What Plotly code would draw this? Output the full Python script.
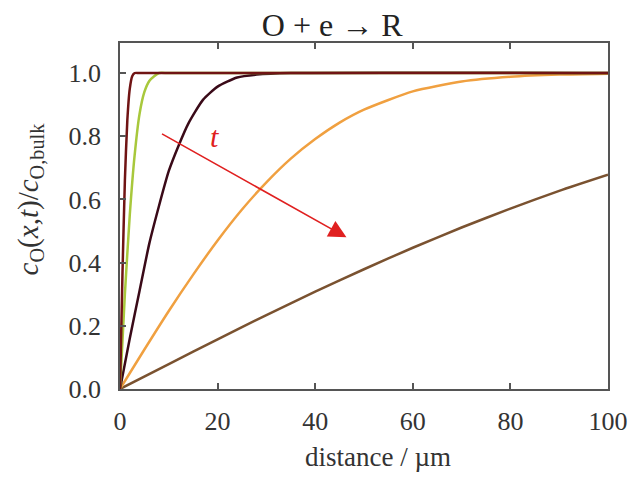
import plotly.graph_objects as go

# Curve data (distance in µm, normalised concentration)
x1 = [0, 0.5, 1.0, 1.5, 2.0, 2.5, 3.0, 4.0, 100]
y1 = [0, 0.36, 0.66, 0.85, 0.95, 0.99, 1.0, 1.0, 1.0]

x2 = [0, 1, 2, 3, 4, 5, 6, 7, 8, 10, 100]
y2 = [0, 0.30, 0.55, 0.74, 0.87, 0.94, 0.975, 0.99, 1.0, 1.0, 1.0]

x3 = [0, 2, 4, 6, 8, 10, 12, 14, 17, 20, 24, 28, 35, 100]
y3 = [0, 0.16, 0.31, 0.46, 0.58, 0.69, 0.77, 0.84, 0.915, 0.957, 0.986, 0.995, 1.0, 1.0]

x4 = [0, 5, 10, 15, 20, 25, 30, 35, 40, 45, 50, 60, 70, 80, 90, 100]
y4 = [0, 0.125, 0.247, 0.362, 0.470, 0.568, 0.654, 0.729, 0.791, 0.843, 0.884,
      0.942, 0.973, 0.988, 0.995, 0.998]

x5 = [0, 10, 20, 30, 40, 50, 60, 70, 80, 90, 100]
y5 = [0, 0.079, 0.157, 0.234, 0.308, 0.379, 0.447, 0.511, 0.571, 0.627, 0.678]

x_ticks = [0, 20, 40, 60, 80, 100]
y_ticks = [0.0, 0.2, 0.4, 0.6, 0.8, 1.0]

series = [
    (x5, y5, "#7a5230"),
    (x4, y4, "#f0a040"),
    (x3, y3, "#3a0a18"),
    (x2, y2, "#a8c83c"),
    (x1, y1, "#701414"),
]

FONT = "Liberation Serif"
TXT = "#333333"

fig = go.Figure()
for xs, ys, col in series:
    fig.add_trace(go.Scatter(x=xs, y=ys, mode="lines",
                             line=dict(color=col, width=2.5, shape="spline", smoothing=0.6),
                             showlegend=False, hoverinfo="skip"))

# time arrow and label
fig.add_annotation(x=46.4, y=0.48, ax=8.3, ay=0.81, xref="x", yref="y",
                   axref="x", ayref="y", showarrow=True, arrowhead=2,
                   arrowsize=2.2, arrowwidth=1.6, arrowcolor="#e02020", text="")
fig.add_annotation(x=19.3, y=0.80, xref="x", yref="y", showarrow=False,
                   text="<i>t</i>", font=dict(family=FONT, size=30, color="#e02020"))

# axis titles
fig.add_annotation(x=0.528, y=-0.197, xref="paper", yref="paper", showarrow=False,
                   xanchor="center", yanchor="middle",
                   text="distance / µm", font=dict(family=FONT, size=27, color=TXT))
fig.add_annotation(x=-0.185, y=0.55, xref="paper", yref="paper", showarrow=False,
                   xanchor="center", yanchor="middle", textangle=-90,
                   text="<i>c</i><sub>O</sub>(<i>x</i>,<i>t</i>)/<i>c</i><sub>O,bulk</sub>",
                   font=dict(family=FONT, size=29, color=TXT))

axis_common = dict(showline=True, linecolor="#555555", linewidth=1.5,
                   ticks="inside", ticklen=6, tickcolor="#555555", tickwidth=1.5,
                   showgrid=False, zeroline=False,
                   tickfont=dict(family=FONT, size=26, color=TXT))

fig.update_xaxes(range=[0, 100], tickvals=x_ticks, mirror="ticks",
                 ticklabelstandoff=8, **axis_common)
fig.update_yaxes(range=[0, 1.095], tickvals=y_ticks, tickformat=".1f", mirror=True,
                 ticklabelstandoff=12, **axis_common)

fig.update_layout(
    width=632, height=482,
    margin=dict(l=112, r=24, t=35, b=101),
    paper_bgcolor="white", plot_bgcolor="white",
    title=dict(text="O + e → R", x=0.513, xref="container", xanchor="center",
               y=0.965, yref="container", yanchor="middle",
               font=dict(family=FONT, size=32, color="#222222")),
)

fig.write_html("out.html")
